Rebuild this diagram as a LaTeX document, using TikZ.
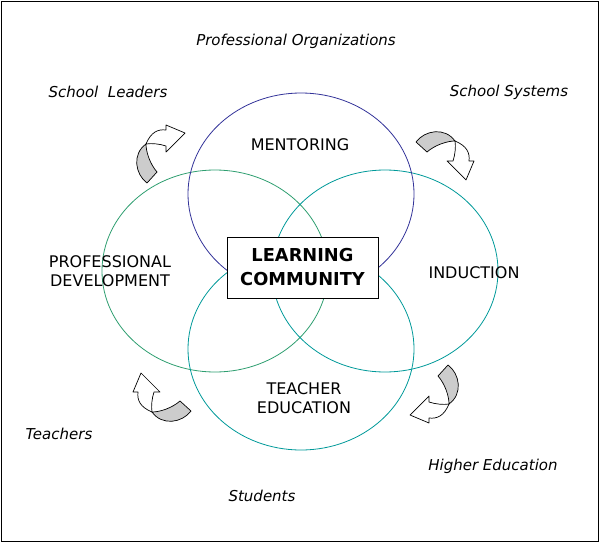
\documentclass[tikz,border=0pt]{standalone}
\usepackage{fontspec}
\setmainfont{DejaVu Sans}
\usetikzlibrary{shapes.geometric}
\definecolor{cpurple}{HTML}{333399}
\definecolor{cgreen}{HTML}{2E9E70}
\definecolor{cteal}{HTML}{009999}
\definecolor{cgray}{HTML}{CCCCCC}
\tikzset{
  ring/.style={ellipse, draw, line width=0.8pt, minimum width=226pt, minimum height=202pt, inner sep=0pt, outer sep=0pt},
  caps/.style={font=\fontsize{16}{19}\selectfont, align=center, inner sep=0pt},
  ital/.style={font=\fontsize{15}{17}\selectfont\itshape, inner sep=0pt},
  arrgray/.style={draw=black, fill=cgray, line width=0.7pt, line join=round},
  arrwhite/.style={draw=black, fill=white, line width=0.7pt, line join=round},
}
\newcommand{\curlarrow}[3]{%
  \begin{scope}[shift={(#1,#2)}, rotate=#3]
    \path[arrgray] (-27,-13) .. controls (-18,-25) and (2,-28) .. (12,-14)
       .. controls (4,-14) and (-8,-10) .. (-16,-3) -- cycle;
    \path[arrwhite] (12,-14) .. controls (24,-9) and (27,-2) .. (26,6)
       -- (31,6) -- (23,25) -- (4,6) -- (10,6)
       .. controls (12,0) and (13,-8) .. (12,-14) -- cycle;
  \end{scope}}
\begin{document}
\begin{tikzpicture}[x=1pt, y=-1pt]
\useasboundingbox (0,0) rectangle (601,543);
\draw[line width=0.9pt] (1,1) rectangle (598.5,541.5);
% circles
\node[ring, draw=cgreen]  (profdev) at (215,271) {};
\node[ring, draw=cteal]   (induct)  at (385,271) {};
\node[ring, draw=cteal]   (teached) at (301,349) {};
\node[ring, draw=cpurple] (mentor)  at (301,194) {};
% center box
\node[draw, fill=white, line width=0.9pt, minimum width=151pt, minimum height=61pt, inner sep=0pt,
      align=center, font=\fontsize{17.8}{24}\selectfont\bfseries] (lc) at (302.5,267.5) {LEARNING\\COMMUNITY};
% circle labels
\node[caps] (lmentor) at (300,145) {MENTORING};
\node[caps] (lprof) at (110,271.5) {PROFESSIONAL\\DEVELOPMENT};
\node[caps] (linduct) at (474,273) {INDUCTION};
\node[caps] (lteach) at (304,398) {TEACHER\\EDUCATION};
% outer labels
\node[ital] (porg) at (296,41) {Professional Organizations};
\node[ital] (sleaders) at (108,92) {School\ \ Leaders};
\node[ital] (ssys) at (509,92) {School Systems};
\node[ital] (teachers) at (59,434) {Teachers};
\node[ital] (highed) at (493,466) {Higher Education};
\node[ital] (students) at (262,496) {Students};
% curled arrows
\curlarrow{160}{156}{90}
\curlarrow{443}{155}{0}
\curlarrow{164}{398}{180}
\curlarrow{435}{392}{-90}
\end{tikzpicture}
\end{document}
